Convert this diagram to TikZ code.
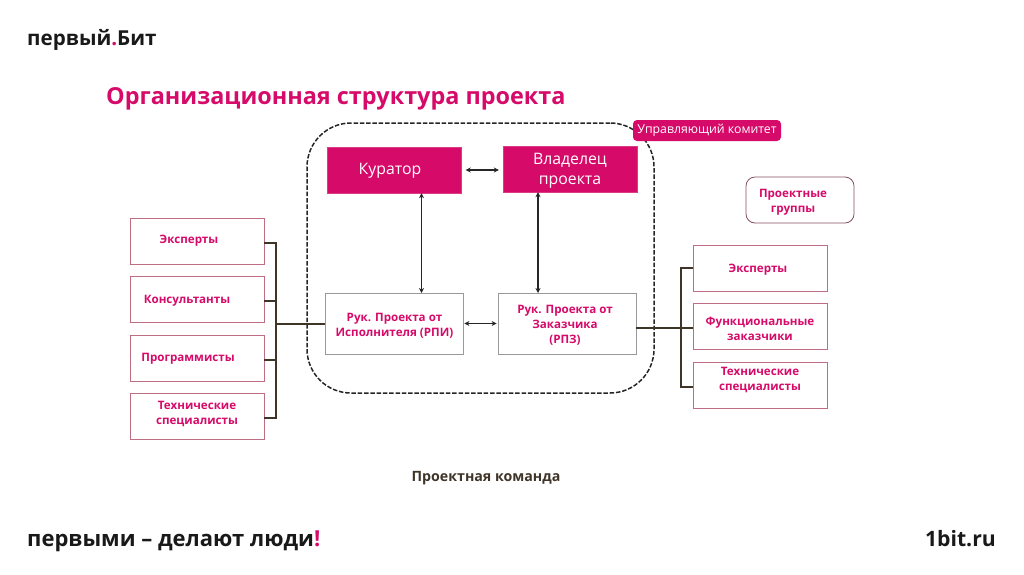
\documentclass[tikz,border=0pt]{standalone}
\usepackage{fontspec}
\setmainfont{Open Sans}
\usetikzlibrary{arrows.meta,calc}
\definecolor{bitpink}{RGB}{214,10,105}
\definecolor{bitedge}{RGB}{190,110,130}
\definecolor{bitline}{RGB}{62,52,40}
\tikzset{link/.style={bitline,line width=1.2pt},twoway/.style={{Stealth[length=5pt,width=5pt]}-{Stealth[length=5pt,width=5pt]},black!85,line width=1.2pt},
 headbox/.style={fill=bitpink,draw=bitpink!80!white,minimum width=134pt,minimum height=46pt,inner sep=0pt},
 headtext/.style={text=white,font=\fontsize{15.8}{20}\selectfont,align=center,inner sep=0pt,yshift=-2.5pt},
 leadbox/.style={fill=white,draw=gray!80,line width=.8pt,minimum width=138pt,minimum height=61pt,inner sep=0pt},
 groupbox/.style={fill=white,draw=bitedge,line width=.8pt,minimum width=134pt,minimum height=46pt,inner sep=0pt},
 grouptext/.style={text=bitpink,font=\bfseries\fontsize{11.6}{15}\selectfont,align=center,inner sep=0pt,yshift=-2pt},
 brand/.style={black!90,font=\bfseries\fontsize{22}{24}\selectfont,inner sep=0pt,yshift=-2pt}}

\begin{document}
\begin{tikzpicture}[x=1pt,y=-1pt]
\useasboundingbox (0,0) rectangle (1024,574);
\node[brand,anchor=west,font=\bfseries\fontsize{20.6}{24}\selectfont] (logo) at (27,38) {первый{\color{bitpink}.}Бит};
\node[anchor=west,inner sep=0pt,text=bitpink,font=\bfseries\fontsize{23.4}{28}\selectfont] (title) at (106,98.5) {Организационная структура проекта};
% core group
\node[draw=black!85,dash pattern=on 4.5pt off 1.8pt,line width=1.5pt,rounded corners=44pt,minimum width=347pt,minimum height=270pt,inner sep=0pt] (core) at (480.5,258) {};
\node[headbox] (curator) at (394.5,170) {};
\node[headtext] (curator text) at (390,168) {Куратор};
\node[headbox] (owner) at (570,169) {};
\node[headtext] (owner text) at (570,168.5) {Владелец\\проекта};
\node[leadbox] (rpi) at (394,323.5) {};
\node[grouptext] (rpi text) at (394.5,323.5) {Рук. Проекта от\\Исполнителя (РПИ)};
\node[leadbox] (rpz) at (567,323.5) {};
\node[grouptext] (rpz text) at (565,323) {Рук. Проекта от\\Заказчика\\(РПЗ)};
\node[fill=bitpink,rounded corners=4pt,minimum width=148pt,minimum height=21pt,text=white,inner sep=0pt,font=\fontsize{12.3}{14}\selectfont] (committee) at (707,130.5) {\raisebox{-2pt}{Управляющий комитет}};
\node[draw=bitedge!70!black,line width=.8pt,rounded corners=9pt,minimum width=108pt,minimum height=46pt,inner sep=0pt] (groups) at (800,200) {};
\node[grouptext] (groups text) at (793,200.5) {Проектные\\группы};
\draw[twoway] ($(curator.east)+(4,0)$)--($(owner.west|-curator.east)+(-4,0)$);
\draw[twoway] (curator.south)++(27,0)--(421.5,293);
\draw[twoway] (owner.south)++(-32,0)--(538,293);
\draw[twoway] (rpi.east)++(1,0)--($(rpz.west)+(-1,0)$);
% left side
\foreach \i/\ypos/\tx/\ty/\words in {1/241/189/239/Эксперты,2/299/187/299/Консультанты,3/358/188/357/Программисты,4/416/197/411.5/Технические\\специалисты} {
\node[groupbox] (left\i) at (197,\ypos) {};
\node[grouptext] (left\i text) at (\tx,\ty) {\words};
\draw[link] (left\i.east)++(0,2)-|(276,324);
}
\coordinate (leftbus) at (276,324);
\draw[link] (leftbus)--(rpi.west|-leftbus);
% right side
\foreach \i/\ypos/\tx/\ty/\words in {1/268/758/268/Эксперты,2/326/760/326.5/Функциональные\\заказчики,3/385/760/377.5/Технические\\специалисты} {
\node[groupbox] (right\i) at (760,\ypos) {};
\node[grouptext] (right\i text) at (\tx,\ty) {\words};
}
\coordinate (rightbus) at (681,328);
\draw[link] (rpz.east|-rightbus)--(right2.west|-rightbus);
\draw[link] (right1.west)-|(rightbus);
\draw[link] (right3.west)++(0,2)-|(rightbus);
\node[inner sep=0pt,text=bitline,font=\bfseries\fontsize{14.2}{16}\selectfont,yshift=-2pt] (team) at (486,476.5) {Проектная команда};
\node[brand,anchor=west] (slogan) at (27,539) {первыми – делают люди{\color{bitpink}!}};
\node[brand,anchor=east,font=\bfseries\fontsize{21.2}{24}\selectfont] (site) at (996,537) {1bit.ru};
\end{tikzpicture}
\end{document}
